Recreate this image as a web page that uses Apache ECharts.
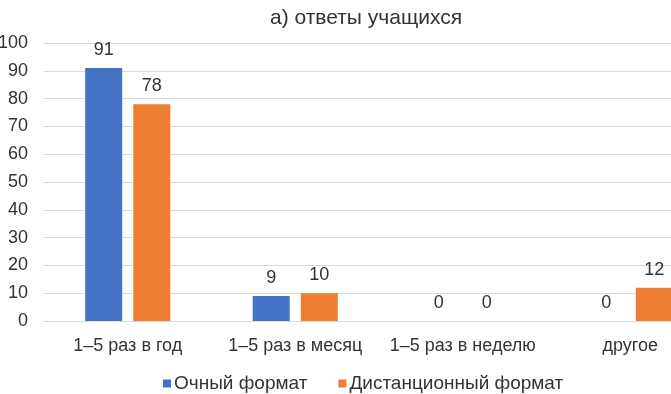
<!DOCTYPE html>
<html>
<head>
<meta charset="utf-8">
<script src="https://cdn.jsdelivr.net/npm/echarts@6/dist/echarts.min.js"></script>
<style>
  html, body { margin: 0; padding: 0; background: #fff; }
  #chart { width: 671px; height: 394px; }
</style>
</head>
<body>
<div id="chart"></div>
<script>
var categories = ['1–5 раз в год', '1–5 раз в месяц', '1–5 раз в неделю', 'другое'];
var seriesNames = ['Очный формат', 'Дистанционный формат'];
var inPerson = [91, 9, 0, 0];
var remote = [78, 10, 0, 12];
var yTicks = { min: 0, max: 100, step: 10 };

var font = 'Arial, "Liberation Sans", sans-serif';
var textColor = '#333333';

var chart = echarts.init(document.getElementById('chart'));

function barSeries(name, data, color) {
  return {
    name: name,
    type: 'bar',
    data: data,
    barWidth: 37,
    barGap: '30%',
    itemStyle: { color: color },
    label: {
      show: true,
      position: 'top',
      distance: 9,
      color: textColor,
      fontFamily: font,
      fontSize: 18
    }
  };
}

chart.setOption({
  animation: false,
  title: {
    text: 'а) ответы учащихся',
    left: 361,
    top: 3,
    textAlign: 'center',
    textStyle: { color: textColor, fontFamily: font, fontSize: 21, fontWeight: 'normal' }
  },
  legend: {
    top: 374,
    left: 163,
    padding: 0,
    itemWidth: 8,
    itemHeight: 8,
    itemGap: 31,
    itemStyle: { borderWidth: 0 },
    icon: 'rect',
    textStyle: { color: textColor, fontFamily: font, fontSize: 19, padding: [0, 0, 0, -2] },
    data: seriesNames
  },
  // the plot runs past the right edge of the picture, as in the source
  grid: { left: 44, top: 43, width: 670, height: 278, containLabel: false, outerBoundsMode: 'none' },
  xAxis: {
    type: 'category',
    data: categories,
    axisTick: { show: false },
    axisLine: { lineStyle: { color: '#d9d9d9' } },
    axisLabel: { color: textColor, fontFamily: font, fontSize: 18, margin: 16, interval: 0 }
  },
  yAxis: {
    type: 'value',
    min: yTicks.min,
    max: yTicks.max,
    interval: yTicks.step,
    axisLine: { show: false },
    axisTick: { show: false },
    splitLine: { lineStyle: { color: '#d9d9d9' } },
    axisLabel: { color: textColor, fontFamily: font, fontSize: 18, margin: 16 }
  },
  series: [
    barSeries(seriesNames[0], inPerson, '#4472C4'),
    barSeries(seriesNames[1], remote, '#ED7D31')
  ]
});
</script>
</body>
</html>
